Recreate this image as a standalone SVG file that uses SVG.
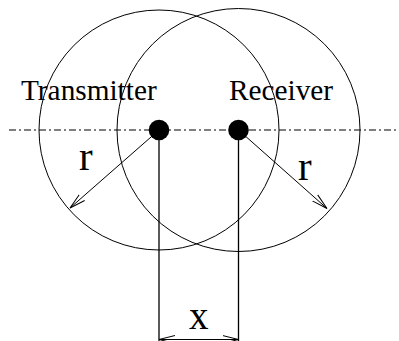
<svg xmlns="http://www.w3.org/2000/svg" width="399" height="341" viewBox="0 0 399 341">
<style>
.ln{fill:none;stroke:#000;stroke-width:1}
.vl{fill:none;stroke:#000;stroke-width:1.3}
.lbl{font-family:"Liberation Serif","Times New Roman",serif;fill:#000}
</style>
<defs>
<marker id="ah" viewBox="-16 -5 17 10" refX="0" refY="0" markerWidth="17" markerHeight="10" markerUnits="userSpaceOnUse" orient="auto-start-reverse">
<path d="M-16,-4 L0,0 L-16,4" fill="none" stroke="#000" stroke-width="1"/>
</marker>
</defs>
<rect width="399" height="341" fill="#fff"/>
<g id="axis">
<line class="ln" x1="9" y1="130" x2="399" y2="130" stroke-dasharray="7,3,2,3"/>
</g>
<g id="transmitter-range">
<circle class="ln" cx="159" cy="130" r="120"/>
</g>
<g id="receiver-range">
<circle class="ln" cx="238.5" cy="130" r="121.5"/>
</g>
<g id="connectors">
<line class="ln" x1="159" y1="130" x2="70" y2="208" marker-end="url(#ah)"/>
<line class="ln" x1="238.5" y1="130" x2="327" y2="208.5" marker-end="url(#ah)"/>
<line class="vl" x1="159" y1="130" x2="159" y2="341"/>
<line class="vl" x1="238.5" y1="130" x2="238.5" y2="341"/>
<line class="ln" x1="159" y1="339.5" x2="238.5" y2="339.5" marker-start="url(#ah)" marker-end="url(#ah)"/>
</g>
<g id="transmitter">
<circle cx="159" cy="130" r="10.3" fill="#000"/>
<text class="lbl" x="21" y="100" font-size="29.3">Transmitter</text>
</g>
<g id="receiver">
<circle cx="238.5" cy="130" r="10.3" fill="#000"/>
<text class="lbl" x="229" y="99.5" font-size="29.3">Receiver</text>
</g>
<g id="labels">
<text class="lbl" x="79" y="170" font-size="41">r</text>
<text class="lbl" x="298" y="179.5" font-size="41">r</text>
<text class="lbl" x="189" y="329" font-size="39">x</text>
</g>
</svg>
